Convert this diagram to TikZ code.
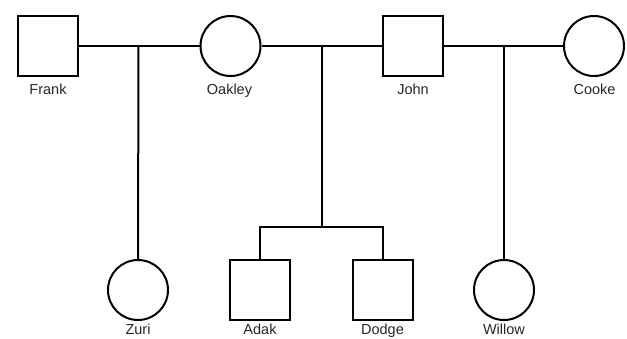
\documentclass[tikz,border=0pt]{standalone}
\usepackage{fontspec}
\setmainfont{Liberation Sans}
\begin{document}
\begin{tikzpicture}[x=1pt,y=-1pt,
  person/.style={draw=black,line width=2pt,fill=white,minimum size=60pt,inner sep=0pt},
  male/.style={person,rectangle},
  female/.style={person,circle},
  pname/.style={anchor=base,font=\fontsize{14.5}{16}\selectfont,text=black!85,inner sep=0pt},
  kinline/.style={draw=black,line width=2pt}]
  \useasboundingbox (0,0) rectangle (627,338);
  % first generation
  \node[male]   (frank)  at (48,46)    {};
  \node[female] (oakley) at (230.5,46) {};
  \node[male]   (john)   at (413,46)   {};
  \node[female] (cooke)  at (594,46)   {};
  % second generation
  \node[female] (zuri)   at (138,290)  {};
  \node[male]   (adak)   at (260,290)  {};
  \node[male]   (dodge)  at (382.5,290) {};
  \node[female] (willow) at (504,290)  {};
  % names
  \node[pname] (nfrank)  at (48,94.5)    {Frank};
  \node[pname] (noakley) at (229.5,94.5) {Oakley};
  \node[pname] (njohn)   at (413,94.5)   {John};
  \node[pname] (ncooke)  at (594.5,94.5) {Cooke};
  \node[pname] (nzuri)   at (138,334.5)  {Zuri};
  \node[pname] (nadak)   at (260,334.5)  {Adak};
  \node[pname] (ndodge)  at (382.5,334.5) {Dodge};
  \node[pname] (nwillow) at (504,334.5)  {Willow};
  % partnership lines and their descent points
  \coordinate (u1) at (138.5,46);
  \coordinate (u2) at (322,46);
  \coordinate (u3) at (504,46);
  \coordinate (sib) at (322,227);
  \draw[kinline] (frank.east) -- (oakley.west);
  \draw[kinline] (oakley.east) -- (john.west);
  \draw[kinline] (john.east) -- (cooke.west);
  % descent lines
  \draw[kinline] (u1) -- (zuri.north);
  \draw[kinline] (u3) -- (willow.north);
  \draw[kinline] (u2) -- (sib);
  \draw[kinline] (adak.north) |- (dodge.north |- sib) -- (dodge.north);
\end{tikzpicture}
\end{document}
